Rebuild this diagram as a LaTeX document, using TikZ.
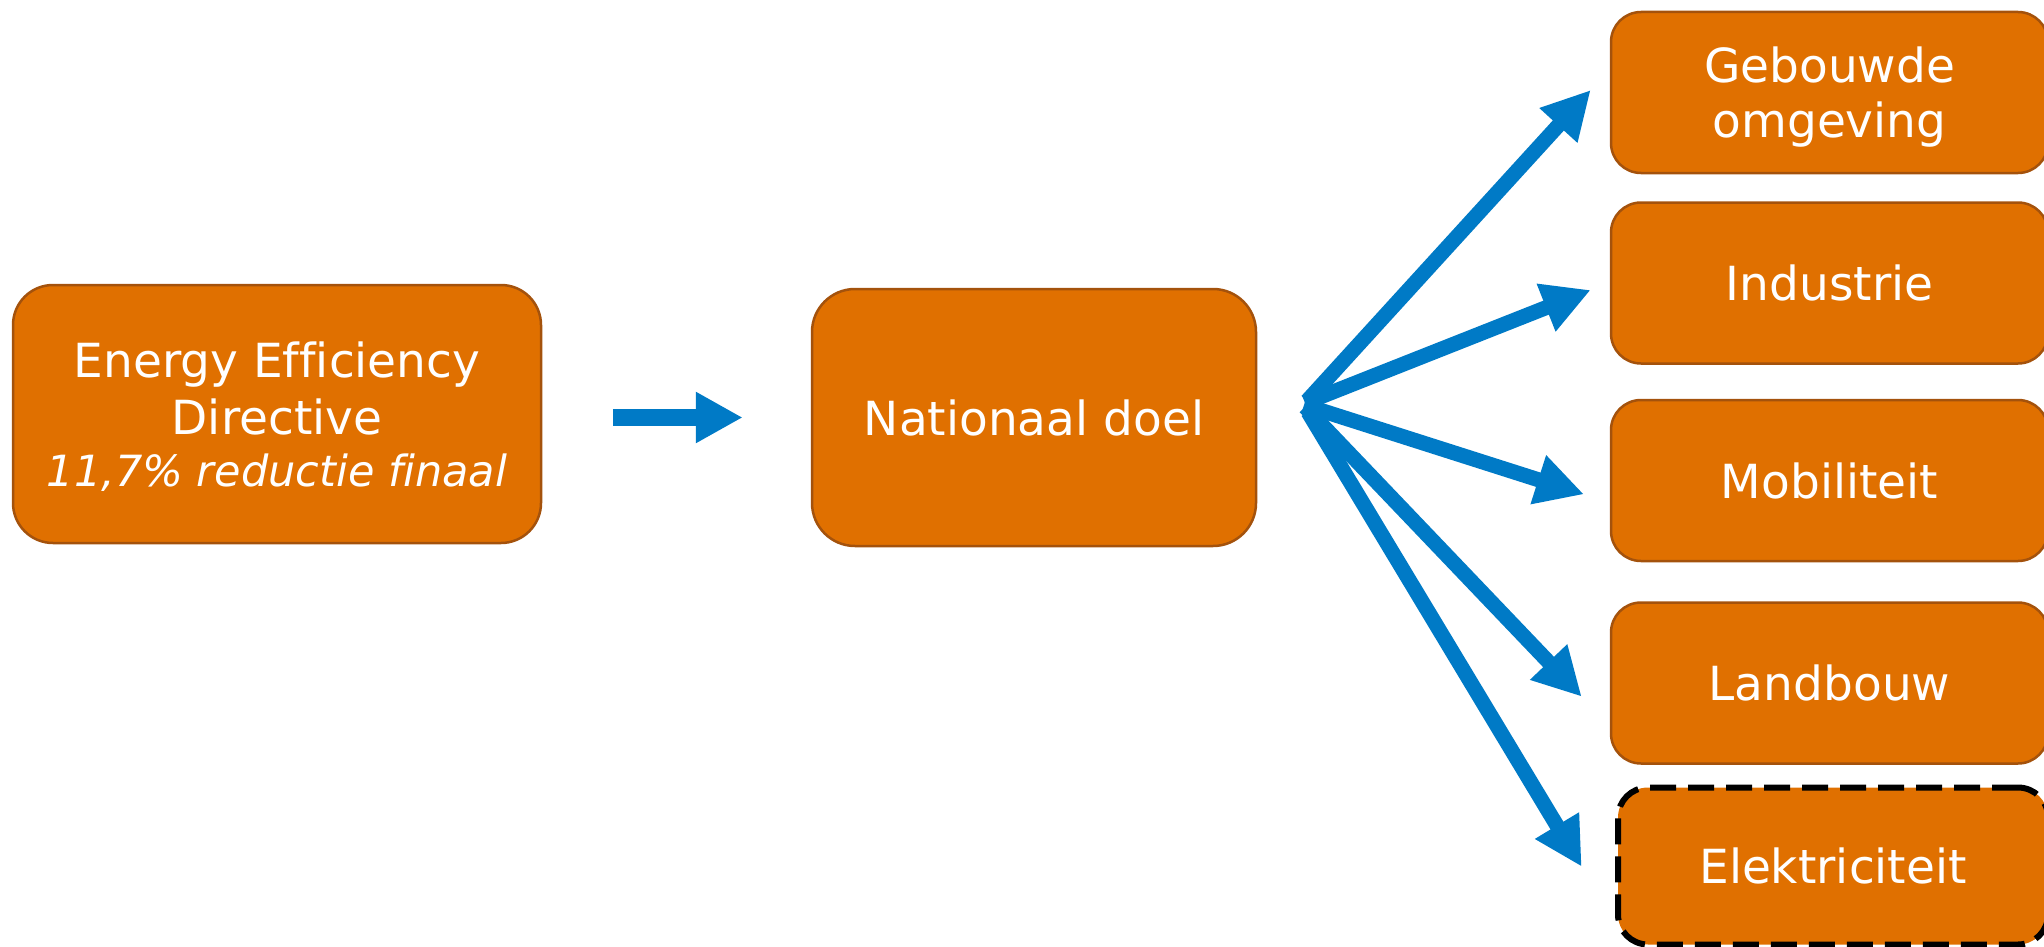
\documentclass[tikz,border=0pt]{standalone}
\usepackage{fontspec}
\setmainfont{DejaVu Sans}[Ligatures=NoCommon]
\usetikzlibrary{arrows.meta}
\definecolor{boxfill}{HTML}{E07000}
\definecolor{boxline}{HTML}{A4520C}
\definecolor{arrblue}{HTML}{007AC6}
\begin{document}
\begin{tikzpicture}[x=1pt,y=-1pt,
  box/.style={draw=boxline, line width=2.5pt, fill=boxfill, text=white,
    align=center, inner sep=0pt, text depth=0pt,
    font=\fontsize{47}{55}\selectfont},
  sidebox/.style={box, rounded corners=30pt, minimum width=437pt, minimum height=161pt},
  dashbox/.style={box, draw=black, line width=6pt, dash pattern=on 26pt off 12pt,
    rounded corners=30pt, minimum width=430pt, minimum height=157pt},
  bigarrow/.style={draw=arrblue, line width=17pt, -{Triangle[length=47pt,width=48pt]}},
  fanarrow/.style={draw=arrblue, line width=15pt, -{Triangle[length=48pt,width=48pt]}}
]
\useasboundingbox (0,0) rectangle (2044,947);
\clip (0,0) rectangle (2044,947);

\node[box, rounded corners=40pt, minimum width=528pt, minimum height=258pt,
      font=\fontsize{47}{57}\selectfont] (eed) at (277,414)
  {Energy Efficiency\\Directive\\[-5pt]{\fontsize{43}{52}\selectfont\itshape 11,7\% reductie finaal}};

\node[box, rounded corners=43pt, minimum width=444pt, minimum height=257pt] (nat) at (1034,417.5) {Nationaal doel};

\node[sidebox] (b1) at (1829.5,92.5) {Gebouwde\\omgeving};
\node[sidebox] (b2) at (1829.5,283) {Industrie};
\node[sidebox] (b3) at (1829.5,480.5) {Mobiliteit};
\node[sidebox] (b4) at (1829.5,683) {Landbouw};
\node[dashbox] (b5) at (1833,866) {Elektriciteit};

\draw[bigarrow] ([xshift=-198pt]nat.west) -- ([xshift=-68pt]nat.west);

\coordinate (s1) at (1307,401);
\coordinate (s2) at (1305,403);
\coordinate (s3) at (1304,405);
\coordinate (s4) at (1305,407);
\coordinate (s5) at (1308,412);
\coordinate (t1) at (1590.7,90);
\coordinate (t2) at (1590.7,290);
\coordinate (t3) at (1584,494.3);
\coordinate (t4) at (1581.7,696.7);
\coordinate (t5) at (1581.7,866.7);

\draw[fanarrow] (s1) -- (t1);
\draw[fanarrow] (s2) -- (t2);
\draw[fanarrow] (s3) -- (t3);
\draw[fanarrow] (s4) -- (t4);
\draw[fanarrow] (s5) -- (t5);
\end{tikzpicture}
\end{document}
